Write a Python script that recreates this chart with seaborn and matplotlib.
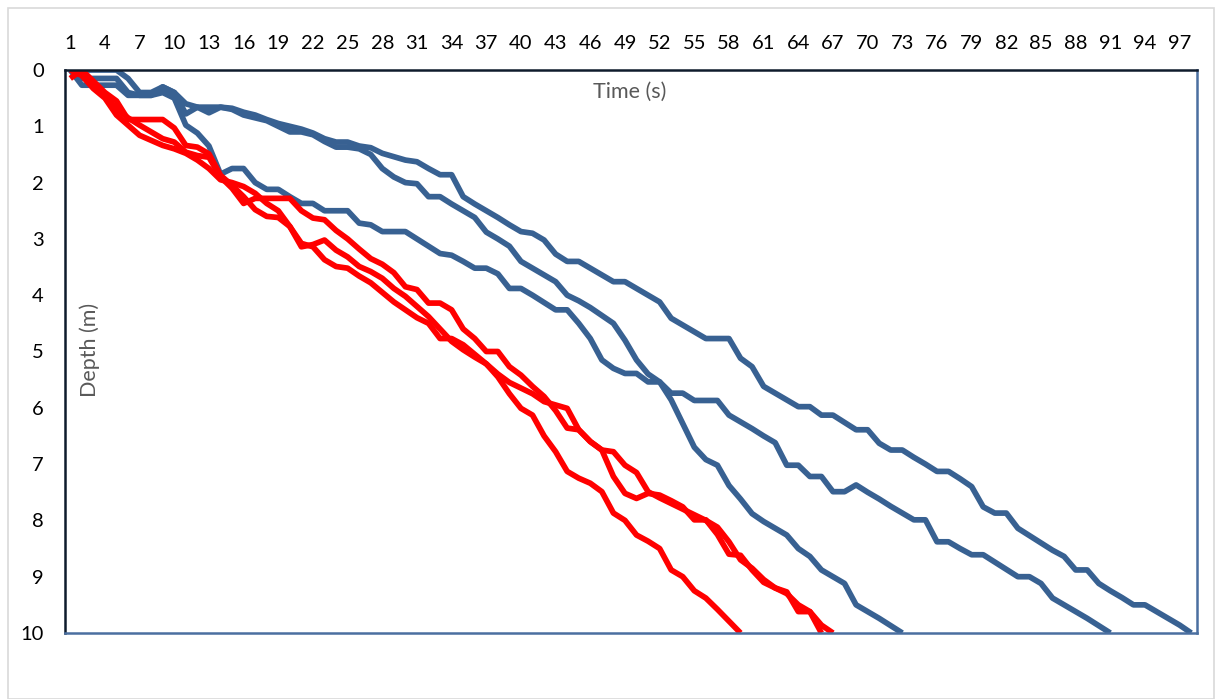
import numpy as np
import pandas as pd
import matplotlib
matplotlib.use("Agg")
import matplotlib.pyplot as plt
import seaborn as sns

# ---- data (depth in m at each time step, series stop when 10 m reached) ----
blue_a = [0.0, 0.27, 0.27, 0.27, 0.27, 0.45, 0.45, 0.45, 0.4, 0.5,
          0.98, 1.12, 1.35, 1.85, 1.75, 1.75, 2.0, 2.12, 2.12, 2.25,
          2.37, 2.37, 2.5, 2.5, 2.5, 2.72, 2.75, 2.87, 2.87, 2.87,
          3.0, 3.13, 3.26, 3.29, 3.4, 3.52, 3.52, 3.62, 3.88, 3.88,
          4.0, 4.13, 4.26, 4.26, 4.5, 4.77, 5.15, 5.3, 5.39, 5.39,
          5.54, 5.54, 5.74, 5.74, 5.87, 5.87, 5.87, 6.13, 6.25, 6.37,
          6.5, 6.62, 7.02, 7.02, 7.22, 7.22, 7.49, 7.49, 7.37, 7.5,
          7.62, 7.75, 7.87, 7.99, 7.99, 8.38, 8.38, 8.5, 8.61, 8.61,
          8.74, 8.87, 9.0, 9.0, 9.12, 9.38, 9.5, 9.62, 9.74, 9.87,
          10.0]
blue_b = [0.0, 0.15, 0.15, 0.15, 0.15, 0.4, 0.45, 0.45, 0.3, 0.4,
          0.78, 0.66, 0.66, 0.66, 0.7, 0.8, 0.85, 0.9, 1.0, 1.1,
          1.1, 1.15, 1.27, 1.37, 1.37, 1.4, 1.5, 1.75, 1.9, 2.0,
          2.02, 2.25, 2.25, 2.38, 2.5, 2.62, 2.88, 3.0, 3.13, 3.4,
          3.52, 3.64, 3.76, 4.0, 4.1, 4.22, 4.36, 4.5, 4.8, 5.15,
          5.4, 5.54, 5.86, 6.28, 6.7, 6.92, 7.02, 7.38, 7.62, 7.88,
          8.02, 8.14, 8.26, 8.5, 8.64, 8.88, 9.0, 9.12, 9.5, 9.62,
          9.74, 9.87, 10.0]
blue_c = [0.0, 0.0, 0.0, 0.0, 0.0, 0.15, 0.4, 0.4, 0.3, 0.4,
          0.6, 0.66, 0.76, 0.66, 0.68, 0.75, 0.8, 0.88, 0.95, 1.0,
          1.05, 1.12, 1.22, 1.28, 1.28, 1.35, 1.38, 1.48, 1.54, 1.6,
          1.63, 1.75, 1.86, 1.86, 2.25, 2.38, 2.5, 2.62, 2.75, 2.87,
          2.9, 3.02, 3.27, 3.4, 3.4, 3.52, 3.64, 3.76, 3.76, 3.88,
          4.0, 4.12, 4.41, 4.53, 4.65, 4.77, 4.77, 4.77, 5.12, 5.27,
          5.62, 5.74, 5.86, 5.98, 5.98, 6.13, 6.13, 6.26, 6.39, 6.39,
          6.63, 6.75, 6.75, 6.88, 7.0, 7.13, 7.13, 7.26, 7.4, 7.76,
          7.87, 7.87, 8.14, 8.27, 8.4, 8.53, 8.64, 8.88, 8.88, 9.12,
          9.25, 9.37, 9.5, 9.5, 9.62, 9.74, 9.86, 10.0]
red_a = [0.15, 0.0, 0.2, 0.4, 0.55, 0.88, 0.88, 0.88, 0.88, 1.03,
         1.34, 1.37, 1.49, 1.87, 2.05, 2.25, 2.48, 2.6, 2.62, 2.78,
         3.08, 3.14, 3.37, 3.49, 3.52, 3.66, 3.78, 3.95, 4.12, 4.26,
         4.4, 4.5, 4.77, 4.77, 4.88, 5.05, 5.22, 5.45, 5.75, 6.01,
         6.13, 6.5, 6.78, 7.13, 7.25, 7.34, 7.49, 7.87, 8.0, 8.26,
         8.37, 8.5, 8.88, 9.0, 9.25, 9.38, 9.58, 9.79, 10.0]
red_b = [0.0, 0.0, 0.3, 0.45, 0.69, 0.85, 0.98, 1.1, 1.22, 1.28,
         1.46, 1.52, 1.55, 1.9, 2.1, 2.37, 2.28, 2.28, 2.28, 2.28,
         2.5, 2.63, 2.66, 2.85, 3.0, 3.18, 3.35, 3.45, 3.6, 3.85,
         3.9, 4.14, 4.14, 4.26, 4.6, 4.77, 5.0, 5.0, 5.27, 5.42,
         5.62, 5.8, 6.05, 6.36, 6.39, 6.6, 6.75, 6.78, 7.02, 7.15,
         7.49, 7.6, 7.7, 7.8, 7.9, 8.0, 8.12, 8.38, 8.7, 8.85,
         9.05, 9.2, 9.3, 9.5, 9.62, 9.86, 10.0]
red_c = [0.0, 0.1, 0.33, 0.5, 0.8, 0.98, 1.16, 1.25, 1.34, 1.4,
         1.48, 1.6, 1.75, 1.95, 2.0, 2.07, 2.19, 2.37, 2.5, 2.78,
         3.14, 3.1, 3.02, 3.2, 3.32, 3.49, 3.58, 3.7, 3.88, 4.02,
         4.2, 4.38, 4.6, 4.82, 4.97, 5.1, 5.22, 5.4, 5.55, 5.65,
         5.75, 5.89, 5.95, 6.01, 6.39, 6.6, 6.75, 7.22, 7.52, 7.61,
         7.52, 7.55, 7.65, 7.76, 7.99, 7.99, 8.25, 8.6, 8.62, 8.88,
         9.1, 9.2, 9.27, 9.62, 9.62, 10.0]

series = {"B1": blue_a, "B2": blue_b, "B3": blue_c,
          "R1": red_a, "R2": red_b, "R3": red_c}
series_colors = {"B1": "#386192", "B2": "#386192", "B3": "#386192",
                 "R1": "#FF0000", "R2": "#FF0000", "R3": "#FF0000"}
x_ticks = list(range(1, 99, 3))
y_ticks = list(range(0, 11))

rows = []
for name, vals in series.items():
    for i, v in enumerate(vals):
        rows.append({"series": name, "time": i + 1, "depth": v})
df = pd.DataFrame(rows)

sns.set_theme(style="white")
plt.rcParams["font.family"] = ["Lato", "DejaVu Sans"]

fig = plt.figure(figsize=(12.15, 6.99), dpi=100)
ax = fig.add_axes([64.5 / 1215, 1 - 633 / 699, (1197 - 64.5) / 1215, (633 - 70) / 699])

for name in series:
    sub = df[df["series"] == name]
    sns.lineplot(data=sub, x="time", y="depth", color=series_colors[name],
                 linewidth=4.1, ax=ax, legend=False, sort=False,
                 estimator=None, solid_joinstyle="round", solid_capstyle="butt")

ax.set_xlim(0.5, 98.5)
ax.set_ylim(10, 0)
ax.set_xticks(x_ticks)
ax.set_xticklabels([str(t) for t in x_ticks])
ax.set_yticks(y_ticks)
ax.xaxis.tick_top()
ax.tick_params(axis="x", length=0, pad=13, labelsize=14.5, colors="#000000")
ax.tick_params(axis="y", length=0, pad=15, labelsize=14.5, colors="#000000")
ax.set_xlabel("")
ax.set_ylabel("")
ax.grid(False)

for side in ["top", "left"]:
    ax.spines[side].set_color("#0E1B2C")
    ax.spines[side].set_linewidth(1.8)
for side in ["bottom", "right"]:
    ax.spines[side].set_color("#4A6FA0")
    ax.spines[side].set_linewidth(1.8)
    ax.spines[side].set_visible(True)
ax.spines["top"].set_zorder(5)

fig.text(630 / 1215, 1 - 92 / 699, "Time (s)", ha="center", va="center",
         fontsize=15.5, color="#595959")
fig.text(90 / 1215, 1 - 350 / 699, "Depth (m)", ha="center", va="center",
         rotation=90, fontsize=15.5, color="#595959")

# outer chart-area border
border = plt.Rectangle((8 / 1215, 0.0), 1 - 8 / 1215 - 1 / 1215, 1 - 8 / 699,
                       transform=fig.transFigure, fill=False,
                       edgecolor="#D9D9D9", linewidth=1.2)
fig.patches.append(border)

fig.savefig("out.png", dpi=100, facecolor="white")
